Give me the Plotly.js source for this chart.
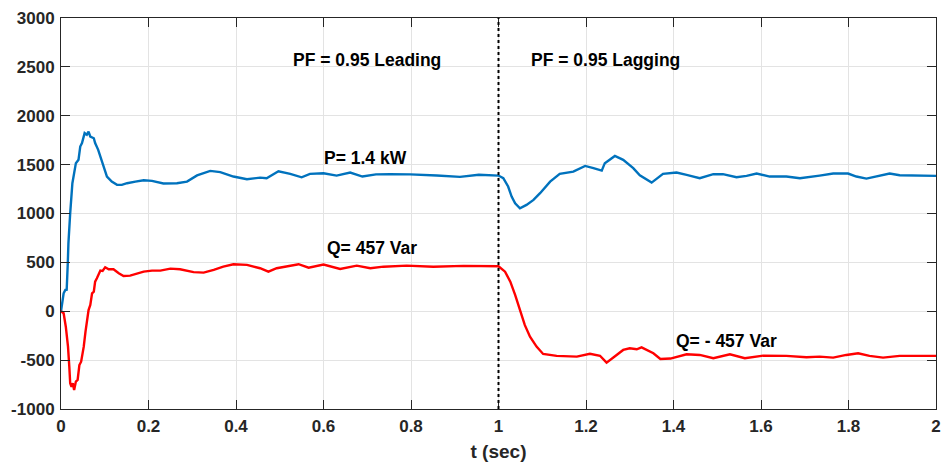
<!DOCTYPE html>
<html>
<head>
<meta charset="utf-8">
<script src="https://cdn.plot.ly/plotly-3.0.1.min.js"></script>
<style>html,body{margin:0;padding:0;background:#fff;}#chart{width:943px;height:462px;}</style>
</head>
<body>
<div id="chart"></div>
<script>
// Active power P (W)
const tP = [0,0.006,0.010,0.013,0.0155,0.017,0.021,0.026,0.034,0.040,0.044,0.048,0.054,0.059,0.063,0.067,0.075,0.078,0.085,0.090,0.097,0.105,0.116,0.128,0.139,0.151,0.170,0.189,0.208,0.234,0.265,0.288,0.311,0.341,0.364,0.394,0.425,0.455,0.470,0.497,0.524,0.550,0.569,0.600,0.630,0.661,0.689,0.720,0.752,0.798,0.859,0.912,0.955,1.000,1.011,1.022,1.030,1.038,1.049,1.064,1.080,1.095,1.118,1.140,1.171,1.198,1.217,1.236,1.243,1.266,1.285,1.308,1.323,1.350,1.376,1.407,1.430,1.460,1.491,1.513,1.544,1.567,1.590,1.620,1.658,1.689,1.734,1.765,1.799,1.818,1.841,1.871,1.894,1.917,1.962,2.000];
const P  = [0,184,218,220,491,700,1003,1310,1515,1549,1685,1720,1822,1805,1838,1787,1770,1720,1651,1582,1464,1378,1326,1293,1293,1310,1326,1340,1334,1307,1310,1326,1390,1436,1423,1378,1351,1367,1361,1432,1405,1370,1405,1412,1388,1419,1378,1400,1402,1400,1388,1375,1396,1388,1361,1276,1173,1105,1054,1088,1139,1208,1326,1405,1429,1487,1464,1439,1515,1589,1549,1464,1390,1316,1405,1419,1395,1361,1402,1402,1371,1385,1409,1378,1378,1361,1388,1409,1409,1378,1357,1385,1409,1392,1385,1385];

// Reactive power Q (Var)
const tQ = [0,0.006,0.011,0.016,0.019,0.021,0.024,0.027,0.030,0.034,0.038,0.042,0.046,0.052,0.056,0.060,0.063,0.067,0.071,0.075,0.078,0.082,0.086,0.090,0.095,0.101,0.109,0.120,0.132,0.143,0.158,0.174,0.189,0.208,0.227,0.250,0.272,0.303,0.326,0.349,0.371,0.394,0.425,0.455,0.474,0.493,0.516,0.543,0.566,0.600,0.638,0.676,0.707,0.737,0.790,0.851,0.920,1.000,1.015,1.027,1.038,1.049,1.060,1.072,1.087,1.102,1.133,1.179,1.209,1.232,1.247,1.270,1.285,1.300,1.316,1.327,1.354,1.370,1.393,1.430,1.460,1.491,1.529,1.563,1.605,1.658,1.704,1.734,1.765,1.795,1.822,1.848,1.879,1.917,1.962,2.000];
const Q  = [0,-20,-158,-362,-567,-737,-772,-737,-806,-720,-703,-550,-516,-362,-209,-89,13,64,184,201,303,338,372,416,413,450,430,430,389,361,364,382,405,416,416,436,430,400,395,423,456,481,474,440,405,440,456,481,446,478,433,467,440,456,467,456,464,460,405,303,167,13,-140,-260,-362,-437,-457,-464,-435,-455,-526,-447,-396,-379,-389,-369,-430,-488,-484,-440,-447,-481,-440,-481,-454,-457,-471,-464,-474,-447,-430,-457,-474,-457,-454,-457];

const xTicks = [0,0.2,0.4,0.6,0.8,1,1.2,1.4,1.6,1.8,2];
const xTickText = ["0","0.2","0.4","0.6","0.8","1","1.2","1.4","1.6","1.8","2"];
const yTicks = [-1000,-500,0,500,1000,1500,2000,2500,3000];
const yTickText = ["-1000","-500","0","500","1000","1500","2000","2500","3000"];

const labels = [
  {text:"PF = 0.95 Leading", x:0.70, y:2570},
  {text:"PF = 0.95 Lagging", x:1.245, y:2570},
  {text:"P= 1.4 kW", x:0.695, y:1570},
  {text:"Q= 457 Var", x:0.71, y:650},
  {text:"Q= - 457 Var", x:1.522, y:-300}
];
const switchTime = 1;

const font = "Liberation Sans, Arial, Helvetica, sans-serif";
const axisCommon = {
  showline:true, linecolor:'#262626', linewidth:1, mirror:'ticks',
  ticks:'inside', ticklen:9, tickwidth:1, tickcolor:'#262626',
  showgrid:true, gridcolor:'#e3e3e3', gridwidth:1, zeroline:false,
  tickfont:{family:font, size:17, color:'#262626', weight:'bold'}
};

const data = [
  {x:tP, y:P, type:'scatter', mode:'lines', line:{color:'#0072BD', width:2.4}, hoverinfo:'skip'},
  {x:tQ, y:Q, type:'scatter', mode:'lines', line:{color:'#FF0000', width:2.4}, hoverinfo:'skip'}
];

const layout = {
  width:943, height:462,
  margin:{l:61, r:7, t:18, b:53},
  paper_bgcolor:'#fff', plot_bgcolor:'#fff',
  showlegend:false,
  xaxis:Object.assign({}, axisCommon, {
    range:[0,2], tickvals:xTicks, ticktext:xTickText, ticklabelstandoff:2,
    title:{text:'t (sec)', font:{family:font, size:19, color:'#262626', weight:'bold'}, standoff:10}
  }),
  yaxis:Object.assign({}, axisCommon, {
    range:[-1000,3000], tickvals:yTicks, ticktext:yTickText, ticklabelstandoff:2
  }),
  shapes:[{type:'line', xref:'x', yref:'paper', x0:switchTime, x1:switchTime, y0:0, y1:1,
           line:{color:'#000', width:2, dash:'dot'}}],
  annotations: labels.map(l => ({
    x:l.x, y:l.y, xref:'x', yref:'y', text:l.text, showarrow:false,
    font:{family:font, size:17.5, color:'#000', weight:'bold'}
  }))
};

Plotly.newPlot('chart', data, layout, {staticPlot:true, displayModeBar:false});
</script>
</body>
</html>
